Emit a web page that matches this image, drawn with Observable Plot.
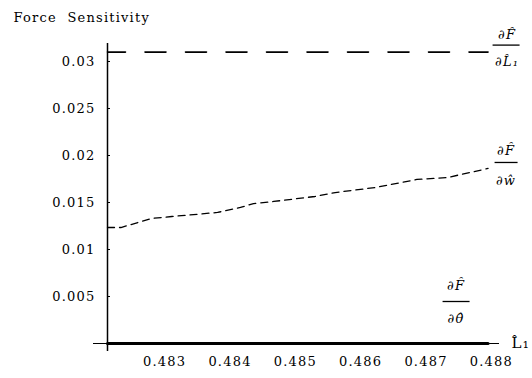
<!DOCTYPE html>
<html>
<head>
<meta charset="utf-8">
<script src="https://cdn.jsdelivr.net/npm/d3@7"></script>
<script src="https://cdn.jsdelivr.net/npm/@observablehq/plot@0.6"></script>
<style>
  html, body { margin: 0; padding: 0; background: #fff; }
</style>
</head>
<body>
<div id="chart"></div>
<script>
// ---- data ----
const titleText = "Force  Sensitivity";
const xLabel = "L\u0302\u2081";

const xTicks = [0.483, 0.484, 0.485, 0.486, 0.487, 0.488];
const xTickLabels = ["0.483", "0.484", "0.485", "0.486", "0.487", "0.488"];
const yTicks = [0.005, 0.01, 0.015, 0.02, 0.025, 0.03];
const yTickLabels = ["0.005", "0.01", "0.015", "0.02", "0.025", "0.03"];

const xDomain = [0.482125, 0.488125];
const yDomain = [0, 0.031915];

// dF/dL1 (dashed, constant)
const l1X = [0.482125, 0.48795];
const l1V = [0.031, 0.031];
// dF/dw (dotted)
const wX = [0.482125, 0.48233, 0.48280, 0.48311, 0.48381, 0.48416, 0.48436, 0.48467, 0.48530, 0.48561, 0.48623, 0.48686, 0.48733, 0.48795];
const wV = [0.01234, 0.01234, 0.0133, 0.01351, 0.01394, 0.01447, 0.01489, 0.01511, 0.01564, 0.01606, 0.0166, 0.01745, 0.01766, 0.01862];
// dF/dtheta (solid, zero)
const thX = [0.482125, 0.48795];
const thV = [0, 0];

const labelL1 = ["\u2202F\u0302", "\u2202L\u0302\u2081"];
const labelW = ["\u2202F\u0302", "\u2202\u0175"];
const labelTh = ["\u2202F\u0302", "\u2202\u03B8\u0302"];

// ---- build tables ----
const l1Data = l1X.map((x, i) => ({x, y: l1V[i]}));
const wData = wX.map((x, i) => ({x, y: wV[i]}));
const thData = thX.map((x, i) => ({x, y: thV[i]}));
const endOf = a => [a[a.length - 1]];

const fracFont = {fontFamily: "DejaVu Serif", fontStyle: "italic", fontSize: 13, fill: "black"};

function fraction(endData, labels, cx, barL, barR, numDy, barDy, denDy) {
  return [
    Plot.text(endData, {x: "x", y: "y", text: () => labels[0], dx: cx, dy: numDy, ...fracFont}),
    Plot.ruleY(endData, {x1: "x", x2: "x", y: "y", insetLeft: barL, insetRight: -barR, dy: barDy, stroke: "black", strokeWidth: 1.3}),
    Plot.text(endData, {x: "x", y: "y", text: () => labels[1], dx: cx, dy: denDy, ...fracFont})
  ];
}

const chart = Plot.plot({
  width: 532,
  height: 378,
  marginLeft: 107,
  marginRight: 33,
  marginTop: 43,
  marginBottom: 35,
  style: {fontFamily: "DejaVu Serif", fontSize: "13px", letterSpacing: "1.2px", color: "black", background: "white"},
  x: {domain: xDomain},
  y: {domain: yDomain},
  marks: [
    Plot.axisX({ticks: xTicks, tickSize: 0, tickPadding: 13, label: null,
      tickFormat: d => xTickLabels[xTicks.indexOf(d)]}),
    Plot.axisY({ticks: yTicks, tickSize: 0, tickPadding: 12, label: null,
      tickFormat: d => yTickLabels[yTicks.indexOf(d)]}),
    // y tick marks pointing inward
    Plot.ruleY(yTicks, {y: d => d, x1: () => xDomain[0], x2: () => xDomain[0], insetRight: -3, stroke: "black", strokeWidth: 1}),
    // axes lines
    Plot.ruleX([xDomain[0]], {insetBottom: -8, stroke: "black", strokeWidth: 1.5}),
    Plot.ruleY([0], {insetLeft: -14, stroke: "black", strokeWidth: 1.2}),
    // series
    Plot.line(thData, {x: "x", y: "y", stroke: "black", strokeWidth: 3}),
    Plot.line(l1Data, {x: "x", y: "y", stroke: "black", strokeWidth: 1.6, strokeDasharray: "21,19.5", strokeDashoffset: 3}),
    Plot.line(wData, {x: "x", y: "y", stroke: "black", strokeWidth: 1.3, strokeDasharray: "7,5"}),
    // fraction labels
    ...fraction(endOf(l1Data), labelL1, 19, 5, 32, -17, -7, 10),
    ...fraction(endOf(wData), labelW, 18, 7, 30, -18, -6, 12),
    ...fraction(endOf(thData), labelTh, -32, -45, -18, -58, -42, -25),
    // title and axis label
    Plot.text([titleText], {frameAnchor: "top-left", text: d => d, textAnchor: "start", lineAnchor: "top", dx: -94, dy: -31, fill: "black", fontSize: 13, letterSpacing: "0.6px"}),
    Plot.text([xLabel], {frameAnchor: "bottom-right", text: d => d, textAnchor: "start", lineAnchor: "middle", dx: 12, dy: 0, fill: "black", fontFamily: "DejaVu Serif", fontSize: 15})
  ]
});

document.getElementById("chart").appendChild(chart);
</script>
</body>
</html>
